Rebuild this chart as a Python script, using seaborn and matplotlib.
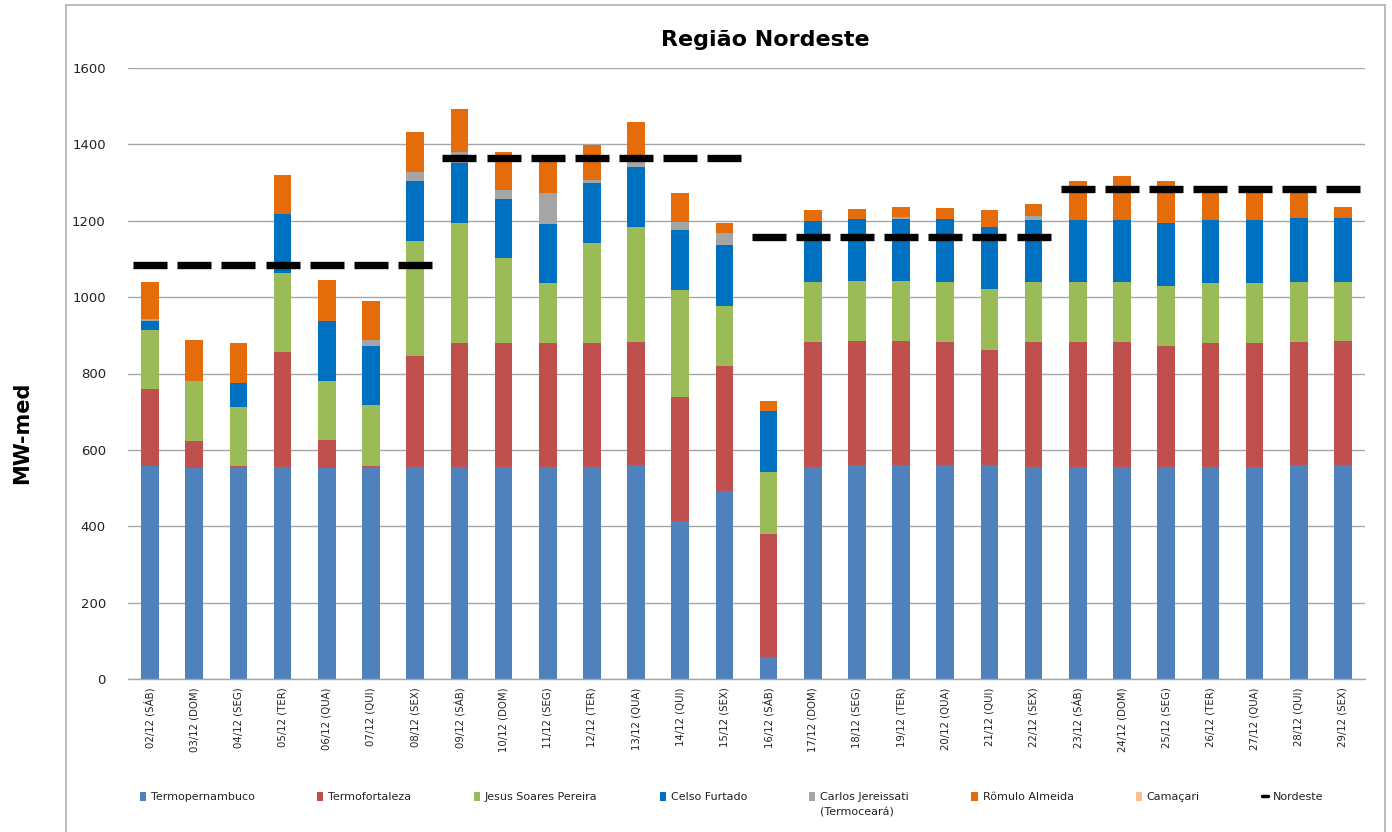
import matplotlib
matplotlib.use("Agg")
import matplotlib.pyplot as plt
import matplotlib.lines as mlines
import matplotlib.patches as mpatches
import numpy as np
import pandas as pd
import seaborn as sns

days = ["02/12 (SÁB)", "03/12 (DOM)", "04/12 (SEG)", "05/12 (TER)", "06/12 (QUA)",
        "07/12 (QUI)", "08/12 (SEX)", "09/12 (SÁB)", "10/12 (DOM)", "11/12 (SEG)",
        "12/12 (TER)", "13/12 (QUA)", "14/12 (QUI)", "15/12 (SEX)", "16/12 (SÁB)",
        "17/12 (DOM)", "18/12 (SEG)", "19/12 (TER)", "20/12 (QUA)", "21/12 (QUI)",
        "22/12 (SEX)", "23/12 (SÁB)", "24/12 (DOM)", "25/12 (SEG)", "26/12 (TER)",
        "27/12 (QUA)", "28/12 (QUI)", "29/12 (SEX)"]

termopernambuco = [558, 553, 556, 556, 553, 556, 556, 556, 556, 556, 556, 560, 414, 492,
                   57, 556, 560, 560, 560, 560, 556, 556, 556, 556, 556, 556, 560, 560]
termofortaleza = [201, 71, 3, 299, 74, 2, 291, 325, 325, 325, 325, 323, 325, 328,
                  324, 327, 326, 326, 323, 301, 327, 327, 327, 317, 325, 325, 323, 326]
jesus_soares = [155, 156, 152, 208, 154, 159, 301, 314, 221, 155, 260, 301, 280, 157,
                161, 157, 157, 157, 157, 160, 157, 157, 157, 157, 157, 157, 157, 154]
celso_furtado = [24, 0, 63, 155, 157, 156, 157, 157, 156, 156, 159, 157, 157, 159,
                 160, 160, 162, 161, 165, 163, 162, 162, 163, 163, 165, 165, 166, 166]
carlos_jereissati = [4, 0, 0, 0, 0, 15, 23, 29, 23, 80, 7, 31, 22, 31,
                     0, 0, 0, 6, 0, 0, 10, 0, 0, 0, 0, 0, 0, 0]
romulo_almeida = [98, 109, 105, 103, 106, 101, 104, 112, 99, 96, 91, 87, 74, 27,
                  25, 28, 26, 26, 28, 44, 31, 103, 113, 112, 77, 77, 76, 30]
camacari = [0] * 28
nordeste = [1085] * 7 + [1365] * 7 + [1157] * 7 + [1284] * 7

series_names = ["Termopernambuco", "Termofortaleza", "Jesus Soares Pereira", "Celso Furtado",
                "Carlos Jereissati", "Rômulo Almeida", "Camaçari"]
series_values = [termopernambuco, termofortaleza, jesus_soares, celso_furtado,
                 carlos_jereissati, romulo_almeida, camacari]
series_colors = ["#4F81BD", "#C0504D", "#9BBB59", "#0070C0", "#A5A5A5", "#E46C0A", "#FABF8F"]

sns.set_style("white")
plt.rcParams["font.family"] = ["DejaVu Sans"]

W, H = 1392, 832
fig = plt.figure(figsize=(W / 100, H / 100), dpi=100)
ax = fig.add_axes([128 / W, 1 - 679 / H, (1365 - 128) / W, (679 - 68) / H])

bottom = np.zeros(len(days))
for name, vals, col in zip(series_names, series_values, series_colors):
    df = pd.DataFrame({"dia": days, "valor": vals})
    sns.barplot(data=df, x="dia", y="valor", order=days, color=col, saturation=1,
                width=0.4, errorbar=None, bottom=bottom.copy(), ax=ax,
                linewidth=0)
    bottom += np.array(vals, dtype=float)

ax.plot(np.arange(len(days)), nordeste, linestyle="none", marker="_",
        markersize=25, markeredgewidth=5.3, color="black", zorder=5)

ax.set_xlim(-0.5, len(days) - 0.5)
ax.set_ylim(0, 1600)
ax.set_yticks(np.arange(0, 1601, 200))
ax.yaxis.grid(True, color="#A6A6A6", linewidth=1.0)
ax.set_axisbelow(True)
for s in ["top", "right", "left"]:
    ax.spines[s].set_visible(False)
ax.spines["bottom"].set_color("#A6A6A6")
ax.spines["bottom"].set_linewidth(1.0)
ax.tick_params(axis="y", length=0, labelsize=9.5, pad=16, colors="#222222")
ax.tick_params(axis="x", length=0, labelsize=7.3, pad=6, colors="#222222")
ax.set_xticks(np.arange(len(days)))
ax.set_xticklabels(days, rotation=90)
ax.set_xlabel("")
ax.set_ylabel("")

fig.text(765 / W, 1 - 40 / H, "Região Nordeste", ha="center", va="center",
         fontsize=16, fontweight="bold", color="black")
fig.text(22 / W, 1 - 433 / H, "MW-med", ha="center", va="center", rotation=90,
         fontsize=15, fontweight="bold", color="black")

handles = [mpatches.Patch(facecolor=c, edgecolor="none") for c in series_colors]
handles.append(mlines.Line2D([], [], color="black", linewidth=2.5))
labels = series_names + ["Nordeste"]
leg = fig.legend(handles, labels, loc="upper left", bbox_to_anchor=(140 / W, 1 - 792 / H),
                 ncol=8, frameon=False, fontsize=8, handlelength=0.55, handleheight=0.9,
                 handletextpad=0.45, columnspacing=5.6, borderaxespad=0, borderpad=0)
for t in leg.get_texts():
    t.set_color("#222222")

# second line of the Carlos Jereissati legend label
fig.canvas.draw()
carlos_txt = leg.get_texts()[4]
bb = carlos_txt.get_window_extent()
fig.text(bb.x0 / W, (bb.y0 - 5) / H, "(Termoceará)", ha="left", va="top",
         fontsize=8, color="#222222")

frame_col = "#B0B0B0"
fig.add_artist(mlines.Line2D([66 / W, 66 / W], [0, 1 - 5 / H], color=frame_col, lw=1.2,
                             transform=fig.transFigure))
fig.add_artist(mlines.Line2D([66 / W, 1385 / W], [1 - 5 / H, 1 - 5 / H], color=frame_col,
                             lw=1.2, transform=fig.transFigure))
fig.add_artist(mlines.Line2D([1385 / W, 1385 / W], [0, 1 - 5 / H], color=frame_col, lw=1.2,
                             transform=fig.transFigure))

fig.savefig("out.png", dpi=100)
